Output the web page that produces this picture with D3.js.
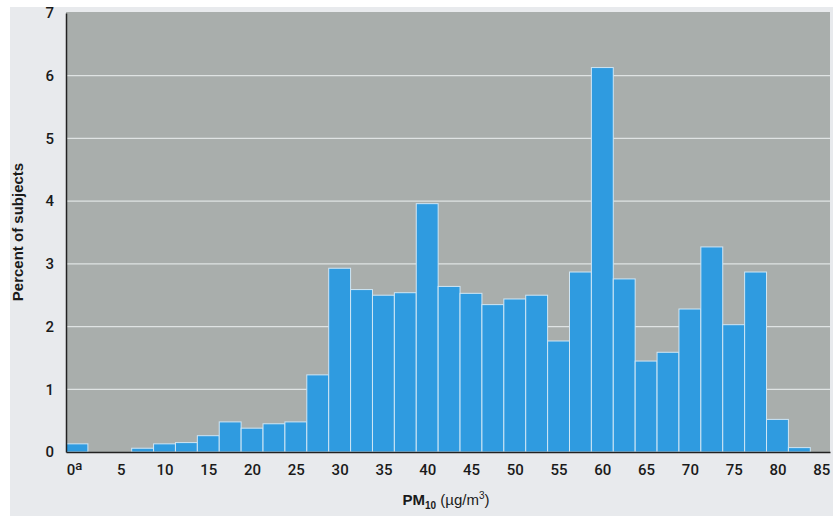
<!DOCTYPE html>
<meta charset="utf-8">
<html>
<head>
<script src="https://cdn.jsdelivr.net/npm/d3@7"></script>
<style>
body { margin:0; background:#ffffff; }
</style>
</head>
<body>
<div id="chart"></div>
<script>

// PM10 bins (bin centres, ug/m3) and percent of subjects
var binCenters = [0, 2.5, 5, 7.5, 10, 12.5, 15, 17.5, 20, 22.5, 25, 27.5, 30, 32.5, 35, 37.5,
                  40, 42.5, 45, 47.5, 50, 52.5, 55, 57.5, 60, 62.5, 65, 67.5, 70, 72.5, 75, 77.5, 80, 82.5];
var percents   = [0.13, 0, 0, 0.06, 0.13, 0.15, 0.26, 0.48, 0.38, 0.45, 0.48, 1.23, 2.93, 2.59, 2.50, 2.54,
                  3.96, 2.64, 2.53, 2.35, 2.44, 2.50, 1.77, 2.87, 6.13, 2.76, 1.45, 1.59, 2.28, 3.27, 2.03, 2.87, 0.52, 0.07];
var xTicks = [0, 5, 10, 15, 20, 25, 30, 35, 40, 45, 50, 55, 60, 65, 70, 75, 80, 85];
var yTicks = [0, 1, 2, 3, 4, 5, 6, 7];
var binWidth = 2.5;

var W = 833, H = 516;
var margin = {top: 13, right: 3, bottom: 64, left: 66},
    width = W - margin.left - margin.right,
    height = H - margin.top - margin.bottom;

var tickFont = "'Liberation Sans Narrow','Roboto',sans-serif";

var svgRoot = d3.select("#chart").append("svg")
    .attr("width", W).attr("height", H);

// page background
svgRoot.append("rect").attr("x", 10).attr("y", 7).attr("width", W - 10).attr("height", H - 7)
    .attr("fill", "#e8eaed");

var svg = svgRoot.append("g")
    .attr("transform", "translate(" + margin.left + "," + margin.top + ")");

var x = d3.scaleLinear().domain([-1.25, 86]).range([0, width]);
var y = d3.scaleLinear().domain([0, 7]).range([height, 0]);

// grey plot panel
svg.append("rect").attr("x", 0).attr("y", -1).attr("width", width).attr("height", height + 1)
    .attr("fill", "#a9aeac");

// gridlines
svg.append("g").selectAll("line")
    .data(yTicks.filter(function(d) { return d > 0 && d < 7; }))
    .enter().append("line")
    .attr("x1", 0).attr("x2", width)
    .attr("y1", function(d) { return y(d); }).attr("y2", function(d) { return y(d); })
    .attr("stroke", "#dfe3e3").attr("stroke-width", 1.2);

// bars
var data = binCenters.map(function(c, i) { return {c: c, v: percents[i]}; });
svg.selectAll(".bar")
    .data(data.filter(function(d) { return d.v > 0; }))
    .enter().append("rect")
    .attr("class", "bar")
    .attr("x", function(d) { return x(d.c - binWidth / 2); })
    .attr("width", function(d) { return x(d.c + binWidth / 2) - x(d.c - binWidth / 2); })
    .attr("y", function(d) { return y(d.v); })
    .attr("height", function(d) { return height - y(d.v); })
    .attr("fill", "#2f9be0")
    .attr("stroke", "#cfe6f5")
    .attr("stroke-width", 1);

// Y axis
var yAxis = svg.append("g")
    .call(d3.axisLeft(y).tickValues(yTicks).tickSize(0).tickPadding(12).tickFormat(d3.format("d")));
yAxis.select(".domain").attr("stroke", "#222").attr("stroke-width", 1.5);
yAxis.selectAll("text").style("font-family", tickFont).style("font-size", "15px")
    .style("font-weight", "500").attr("fill", "#1a1a1a");

// X axis
var xAxis = svg.append("g")
    .attr("transform", "translate(0," + height + ")")
    .call(d3.axisBottom(x).tickValues(xTicks).tickSize(0).tickPadding(12)
        .tickFormat(d3.format("d")));
xAxis.select(".domain").attr("stroke", "#222").attr("stroke-width", 1.5);
xAxis.selectAll("text").style("font-family", tickFont).style("font-size", "15px")
    .style("font-weight", "500").attr("fill", "#1a1a1a");
xAxis.selectAll(".tick").filter(function(d) { return d === 0; }).select("text")
    .attr("dx", -3)
    .append("tspan").attr("dy", "-0.35em").style("font-size", "13px").text("a");

// axis titles
svgRoot.append("text")
    .attr("transform", "translate(23,232)rotate(-90)")
    .attr("text-anchor", "middle")
    .attr("fill", "#1a1a1a")
    .style("font-family", "'Liberation Sans',Arial,sans-serif")
    .style("font-weight", "bold").style("font-size", "15px")
    .text("Percent of subjects");

var xt = svgRoot.append("text")
    .attr("x", 446).attr("y", 505)
    .attr("text-anchor", "middle")
    .attr("fill", "#1a1a1a")
    .style("font-family", "'Liberation Sans',Arial,sans-serif")
    .style("font-size", "15px");
xt.append("tspan").style("font-weight", "bold").text("PM");
xt.append("tspan").style("font-weight", "bold").style("font-size", "10px").attr("dy", 4).text("10");
xt.append("tspan").attr("dy", -4).text(" (\u00b5g/m");
xt.append("tspan").style("font-size", "10px").attr("dy", -6).text("3");
xt.append("tspan").attr("dy", 6).text(")");

</script>
</body>
</html>
